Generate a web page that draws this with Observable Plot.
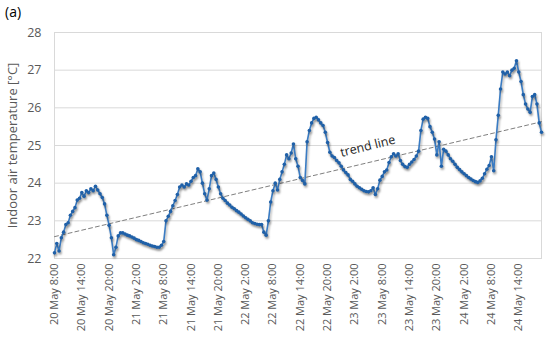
<!DOCTYPE html>
<html><head><meta charset="utf-8">
<script src="https://cdn.jsdelivr.net/npm/d3@7"></script>
<script src="https://cdn.jsdelivr.net/npm/@observablehq/plot@0.6"></script>
<style>
body{margin:0;background:#fff;font-family:"Open Sans",sans-serif;}
#wrap{position:relative;width:550px;height:338px;}
#tag{position:absolute;left:5px;top:2px;font-size:14px;color:#000;font-family:"Open Sans",sans-serif;}
</style></head><body>
<div id="wrap"><div id="tag">(a)</div></div>
<script>
// Indoor air temperature, sampled every 30 min from 20 May 8:00
const seriesStart = new Date(2021, 4, 20, 8, 0);
const stepMinutes = 30;
const temperatures = [
  22.15, 22.4, 22.2, 22.55, 22.7, 22.9, 22.95, 23.15, 23.25, 23.35,
  23.55, 23.6, 23.75, 23.65, 23.8, 23.75, 23.85, 23.8, 23.92, 23.82,
  23.72, 23.62, 23.45, 23.15, 22.88, 22.55, 22.1, 22.3, 22.6, 22.68,
  22.68, 22.65, 22.62, 22.6, 22.57, 22.54, 22.5, 22.48, 22.45, 22.42,
  22.4, 22.38, 22.35, 22.33, 22.32, 22.3, 22.3, 22.35, 22.45, 23.0,
  23.12, 23.25, 23.4, 23.54, 23.7, 23.9, 23.95, 23.9, 23.98, 23.95,
  24.05, 24.15, 24.2, 24.38, 24.3, 24.0, 23.72, 23.55, 23.85, 24.2,
  24.27, 24.1, 23.9, 23.72, 23.6, 23.54, 23.47, 23.42, 23.36, 23.32,
  23.27, 23.23, 23.18, 23.13, 23.08, 23.04, 23.0, 22.95, 22.93, 22.91,
  22.9, 22.9, 22.7, 22.62, 23.0, 23.5, 23.8, 24.0, 23.82, 24.1,
  24.3, 24.5, 24.75, 24.65, 24.8, 25.04, 24.65, 24.45, 24.15, 24.07,
  23.98, 25.1, 25.4, 25.6, 25.72, 25.75, 25.68, 25.6, 25.53, 25.35,
  25.08, 24.82, 24.72, 24.68, 24.6, 24.54, 24.45, 24.35, 24.28, 24.22,
  24.1, 24.05, 23.98, 23.92, 23.88, 23.84, 23.8, 23.78, 23.77, 23.8,
  23.88, 23.7, 23.85, 24.08, 24.18, 24.3, 24.35, 24.55, 24.7, 24.78,
  24.72, 24.78, 24.6, 24.5, 24.44, 24.42, 24.5, 24.56, 24.63, 24.72,
  24.85, 25.4, 25.7, 25.75, 25.72, 25.5, 25.35, 25.17, 24.75, 25.1,
  24.45, 24.9, 24.85, 24.75, 24.65, 24.58, 24.5, 24.42, 24.36, 24.3,
  24.25, 24.2, 24.15, 24.11, 24.07, 24.04, 24.02, 24.06, 24.13, 24.25,
  24.37, 24.47, 24.7, 24.33, 25.15, 25.8, 26.5, 26.95, 26.9, 26.95,
  26.85, 27.0, 27.05, 27.25, 26.95, 26.7, 26.35, 26.1, 25.97, 25.88,
  26.3, 26.35, 26.1, 25.6, 25.35
];
const axisEnd = new Date(2021, 4, 24, 19, 0);
const tickTimes = [
  new Date(2021,4,20,8), new Date(2021,4,20,14), new Date(2021,4,20,20),
  new Date(2021,4,21,2), new Date(2021,4,21,8), new Date(2021,4,21,14), new Date(2021,4,21,20),
  new Date(2021,4,22,2), new Date(2021,4,22,8), new Date(2021,4,22,14), new Date(2021,4,22,20),
  new Date(2021,4,23,2), new Date(2021,4,23,8), new Date(2021,4,23,14), new Date(2021,4,23,20),
  new Date(2021,4,24,2), new Date(2021,4,24,8), new Date(2021,4,24,14)
];
const tickLabels = [
  "20 May 8:00","20 May 14:00","20 May 20:00",
  "21 May 2:00","21 May 8:00","21 May 14:00","21 May 20:00",
  "22 May 2:00","22 May 8:00","22 May 14:00","22 May 20:00",
  "23 May 2:00","23 May 8:00","23 May 14:00","23 May 20:00",
  "24 May 2:00","24 May 8:00","24 May 14:00"
];
const yTicks = [22, 23, 24, 25, 26, 27, 28];
const trendTimes = [seriesStart, axisEnd];
const trendValues = [22.58, 25.63];
const trendLabel = {text: "trend line", time: new Date(2021, 4, 23, 4, 50), value: 24.98};

const data = temperatures.map((v, i) => ({t: new Date(seriesStart.getTime() + i * stepMinutes * 60000), v}));
const trend = trendTimes.map((t, i) => ({t, v: trendValues[i]}));

const chart = Plot.plot({
  width: 550, height: 338,
  marginLeft: 54, marginRight: 9, marginTop: 32, marginBottom: 80,
  style: {fontFamily: "'Open Sans', sans-serif", color: "#595959", background: "#fff"},
  x: {type: "time", domain: [seriesStart, axisEnd]},
  y: {domain: [22, 28]},
  marks: [
    Plot.gridY(yTicks, {stroke: "#d9d9d9", strokeOpacity: 1}),
    Plot.frame({stroke: "#d9d9d9"}),
    Plot.axisY({ticks: yTicks, tickFormat: d => String(d), tickSize: 0, tickPadding: 13, fontSize: 12.5,
      label: "Indoor air temperature [°C]", labelAnchor: "center", labelArrow: "none", labelOffset: 47}),
    Plot.axisX({ticks: tickTimes, tickFormat: (d, i) => tickLabels[i], tickRotate: -90, tickSize: 0, tickPadding: 5, fontSize: 11, label: null}),
    Plot.line(trend, {x: "t", y: "v", stroke: "#7f7f7f", strokeWidth: 1, strokeDasharray: "4,3"}),
    Plot.line(data, {x: "t", y: "v", stroke: "#3a7cc4", strokeWidth: 1.6}),
    Plot.dot(data, {x: "t", y: "v", r: 1.8, fill: "#1f60a8", stroke: "none"}),
    Plot.text([trendLabel], {x: "time", y: "value", text: "text", rotate: -14, fontSize: 12.5, fill: "#262626"})
  ]
});
document.getElementById("wrap").prepend(chart);
const lineGroups = chart.querySelectorAll('g[aria-label="line"]');
if (lineGroups.length > 1) lineGroups[1].style.filter = "drop-shadow(1px 2px 1.2px rgba(0,0,0,0.35))";
chart.querySelectorAll('g[aria-label="dot"]').forEach(g => {
  g.style.filter = "drop-shadow(1px 2px 1.2px rgba(0,0,0,0.3))";
});
const lab = chart.querySelector('g[aria-label="y-axis label"] text');
if (lab) { lab.setAttribute("font-size", "13"); lab.style.fontSize = "13px"; }
</script>
</body></html>
